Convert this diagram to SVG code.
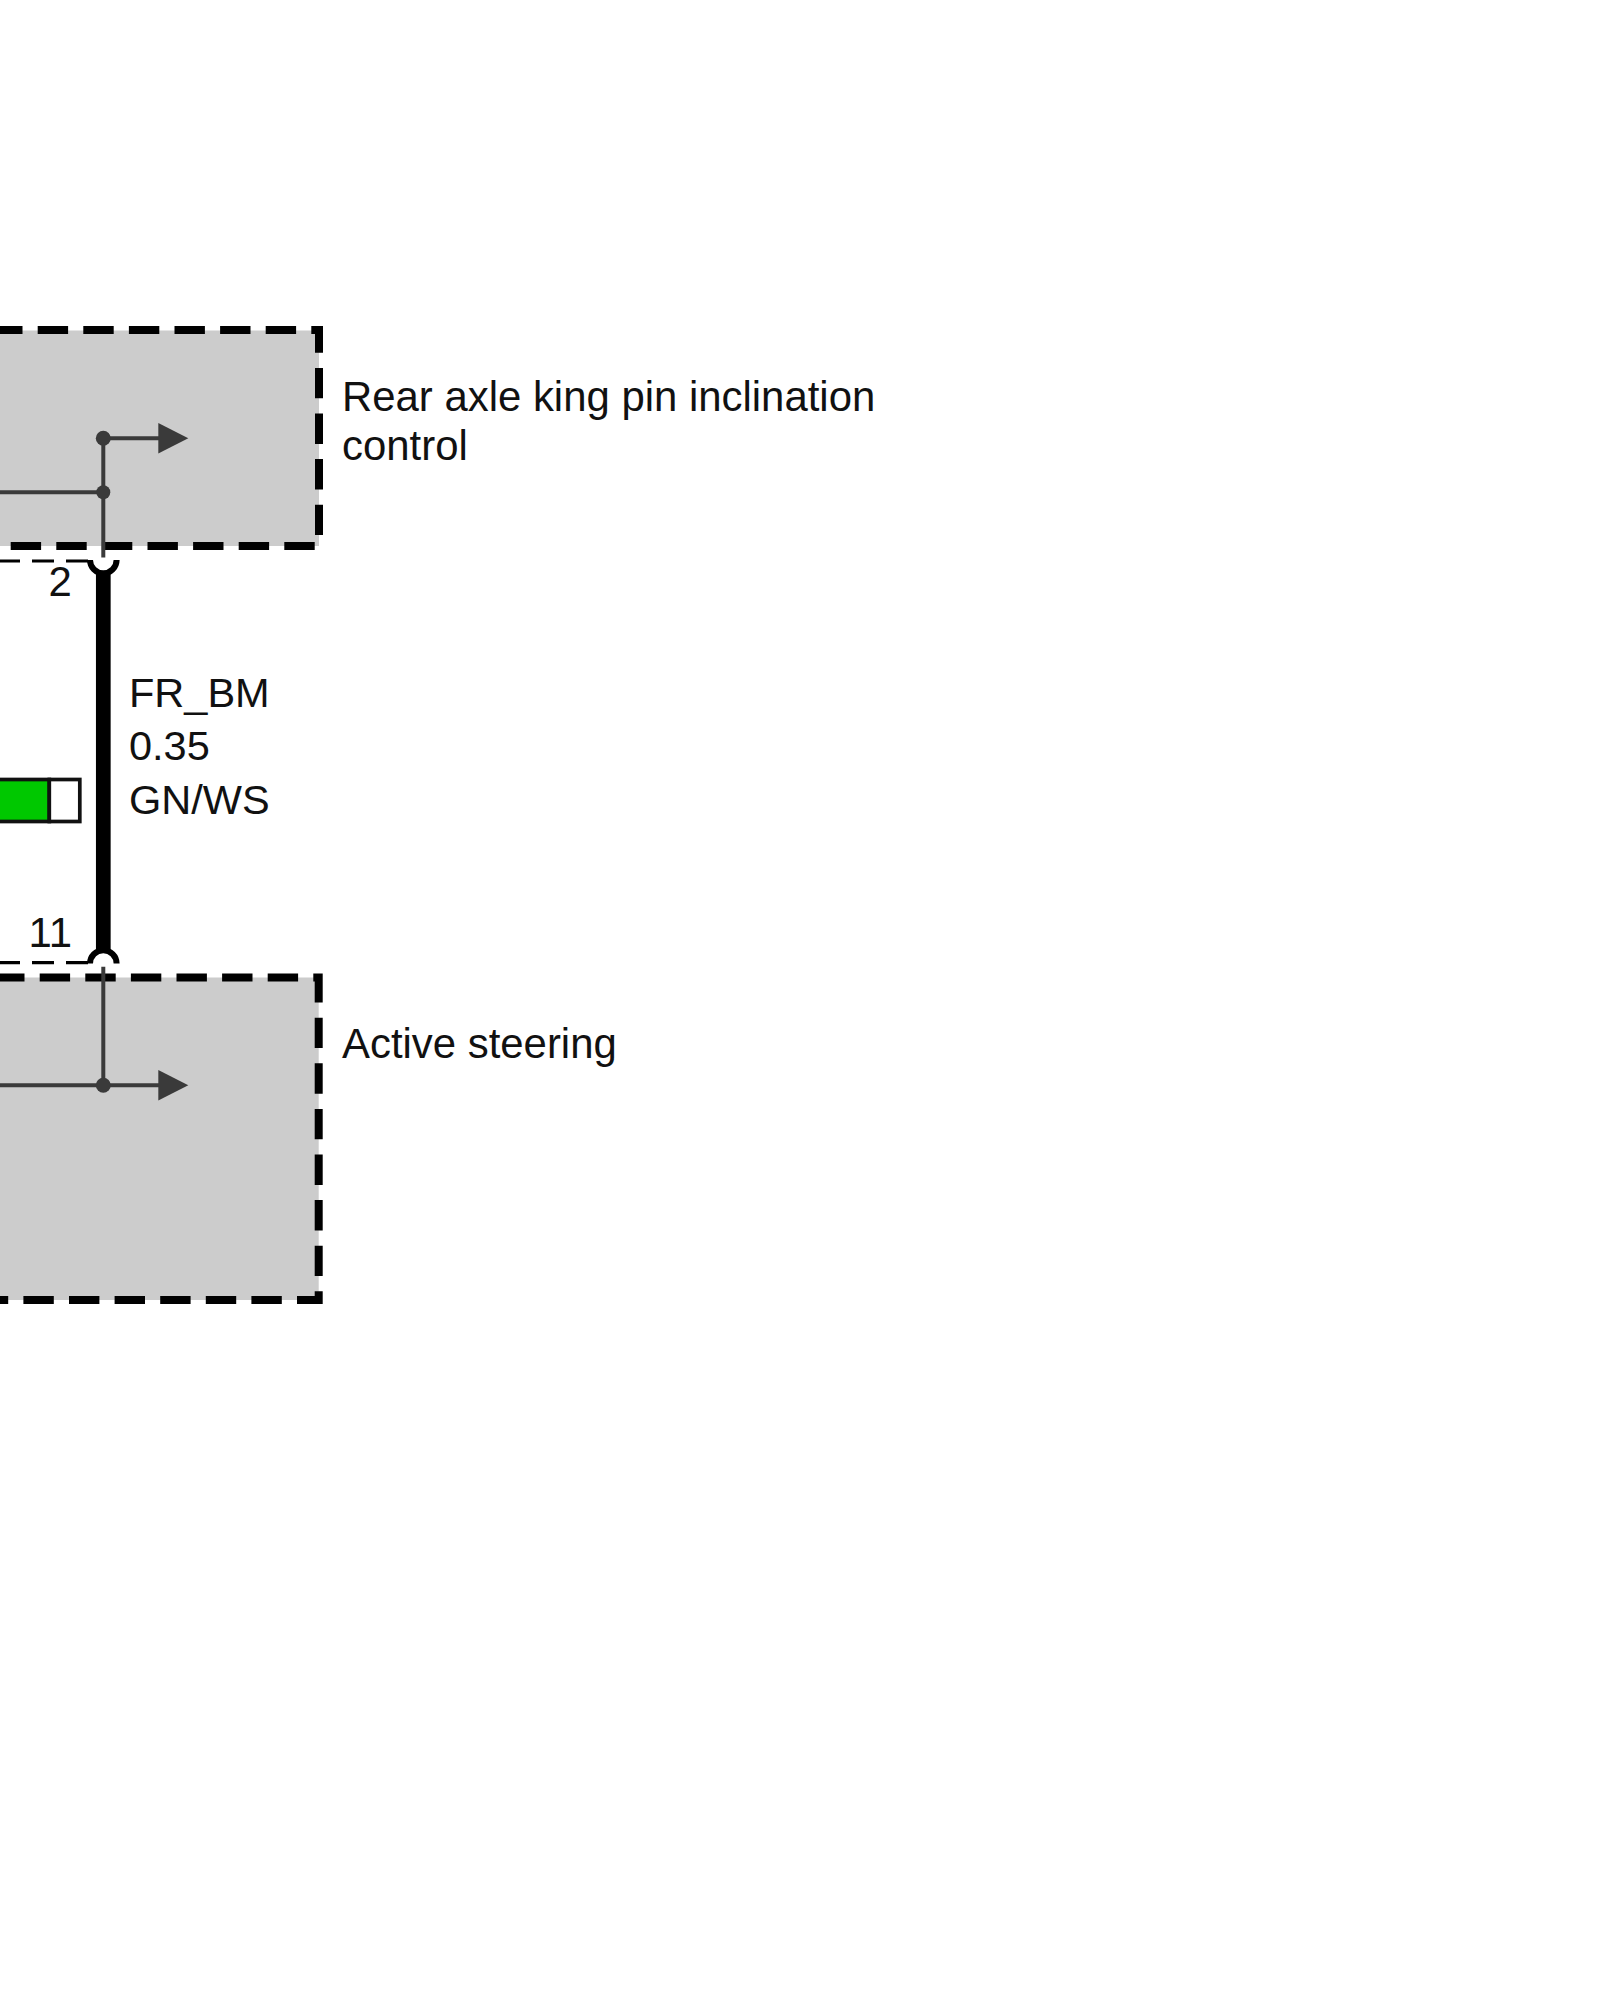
<svg xmlns="http://www.w3.org/2000/svg" width="1600" height="2000" viewBox="0 0 1600 2000">
<style>
text{font-family:"Liberation Sans",Arial,sans-serif;font-size:41.9px;fill:#111}
.box{fill:#ccc}
.dash{fill:none;stroke:#000;stroke-width:8;stroke-dasharray:30.4 15.2}
.sig{fill:none;stroke:#3a3a3a;stroke-width:4}
.dot,.head{fill:#3a3a3a}
.term{fill:#fff;stroke:#000;stroke-width:6}
.shield{fill:none;stroke:#000;stroke-width:3.2;stroke-dasharray:22 12}
.sw{stroke:#111;stroke-width:3.7}
</style>
<rect width="1600" height="2000" fill="#fff"/>
<g id="node-rear-axle">
<rect class="box" x="0" y="330.5" width="319" height="215.5"/>
<path class="dash" d="M-7.9 330H319V546H-8"/>
<path class="sig" d="M0 492.3H103.3M103.3 438.3V557.5M103.3 438.3H160"/>
<circle class="dot" cx="103.3" cy="438.3" r="7.5"/>
<circle class="dot" cx="103.3" cy="492.3" r="7"/>
<polygon class="head" points="158.3,423 188.3,438.3 158.3,453.5"/>
<text x="342" y="411">Rear axle king pin inclination</text>
<text x="342" y="460">control</text>
<text x="48.5" y="596">2</text>
</g>
<g id="node-active-steering">
<rect class="box" x="0" y="977.5" width="318.7" height="322.5"/>
<path class="dash" d="M-5.9 977.5H318.7V1300H-6"/>
<path class="sig" d="M0 1085.3H160M103.3 966.7V1085.3"/>
<circle class="dot" cx="103.3" cy="1085.3" r="7.5"/>
<polygon class="head" points="158.3,1070 188.3,1085.3 158.3,1100.5"/>
<text x="342" y="1058">Active steering</text>
<text x="28.5" y="946.7">11</text>
</g>
<g id="connectors">
<path d="M103.3 570V954" fill="none" stroke="#000" stroke-width="14.7"/>
<path class="shield" d="M-2 561H90"/>
<path class="shield" d="M-2 962.7H90"/>
<path class="term" d="M90 560A13.3 13.3 0 0 0 116.6 560"/>
<path class="term" d="M90 963.5A13.3 13.3 0 0 1 116.6 963.5"/>
</g>
<g id="node-wire-colour">
<rect class="sw" x="-4" y="779.5" width="53.3" height="42" fill="#00c800"/>
<rect class="sw" x="49.3" y="779.5" width="30.5" height="42" fill="#fff"/>
<text x="129" y="706.7" style="font-size:41.5px">FR_BM</text>
<text x="129" y="760" style="font-size:41.5px">0.35</text>
<text x="129" y="814" style="font-size:41.5px">GN/WS</text>
</g>
</svg>
